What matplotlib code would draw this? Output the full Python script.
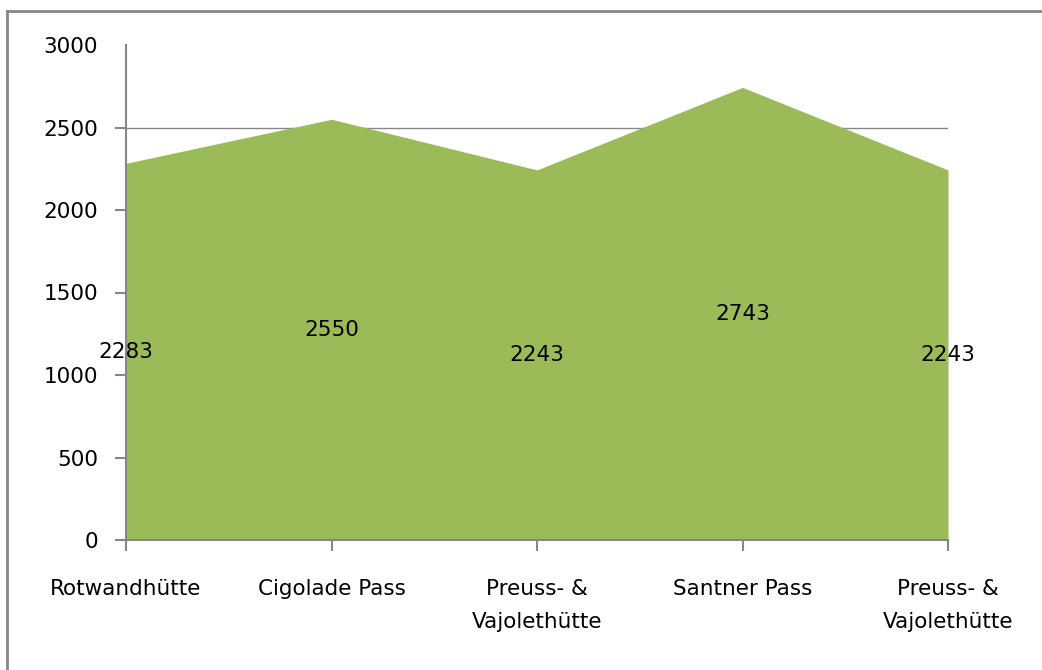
import matplotlib.pyplot as plt
from matplotlib.lines import Line2D
import numpy as np

huts = ["Rotwandhütte", "Cigolade Pass", "Preuss- &\nVajolethütte", "Santner Pass", "Preuss- &\nVajolethütte"]
altitude = [2283, 2550, 2243, 2743, 2243]
yticks = [0, 500, 1000, 1500, 2000, 2500, 3000]

plt.rcParams['font.family'] = ['DejaVu Sans']
gray = "#878787"
green = "#9BBB59"
fs = 15.5

fig = plt.figure(figsize=(10.42, 6.70), dpi=100)
ax = fig.add_axes([126/1042, 1 - 540/670, (948 - 126)/1042, (540 - 45)/670])

x = np.arange(len(huts))
ax.fill_between(x, altitude, 0, color=green, linewidth=0, zorder=2)
for xi, v in zip(x, altitude):
    ax.text(xi, v/2, str(v), ha="center", va="center", fontsize=fs, zorder=3)

ax.set_xlim(0, len(huts) - 1)
ax.set_ylim(0, 3000)
ax.set_yticks(yticks)
ax.set_yticklabels([str(t) for t in yticks], fontsize=fs)
ax.set_xticks(x)
ax.set_xticklabels(huts, fontsize=fs, linespacing=1.8)

ax.yaxis.grid(True, color=gray, linewidth=1, zorder=1)
ax.set_axisbelow(True)
ax.yaxis.get_gridlines()[-1].set_visible(False)
ax.yaxis.get_major_ticks()[-1].tick1line.set_visible(False)

for s in ["top", "right"]:
    ax.spines[s].set_visible(False)
for s in ["left", "bottom"]:
    ax.spines[s].set_color(gray)
    ax.spines[s].set_linewidth(1.5)
    ax.spines[s].set_zorder(4)
ax.tick_params(axis="both", color=gray, width=1.5, length=8, direction="out")
ax.tick_params(axis="y", pad=12)
ax.tick_params(axis="x", pad=20)

# outer chart frame (only top and left edges visible)
fig.add_artist(Line2D([7/1042, 7/1042], [0, 1 - 11/670], color=gray, linewidth=2, transform=fig.transFigure))
fig.add_artist(Line2D([7/1042, 1], [1 - 11/670, 1 - 11/670], color=gray, linewidth=2, transform=fig.transFigure))

plt.savefig("out.png", dpi=100)
